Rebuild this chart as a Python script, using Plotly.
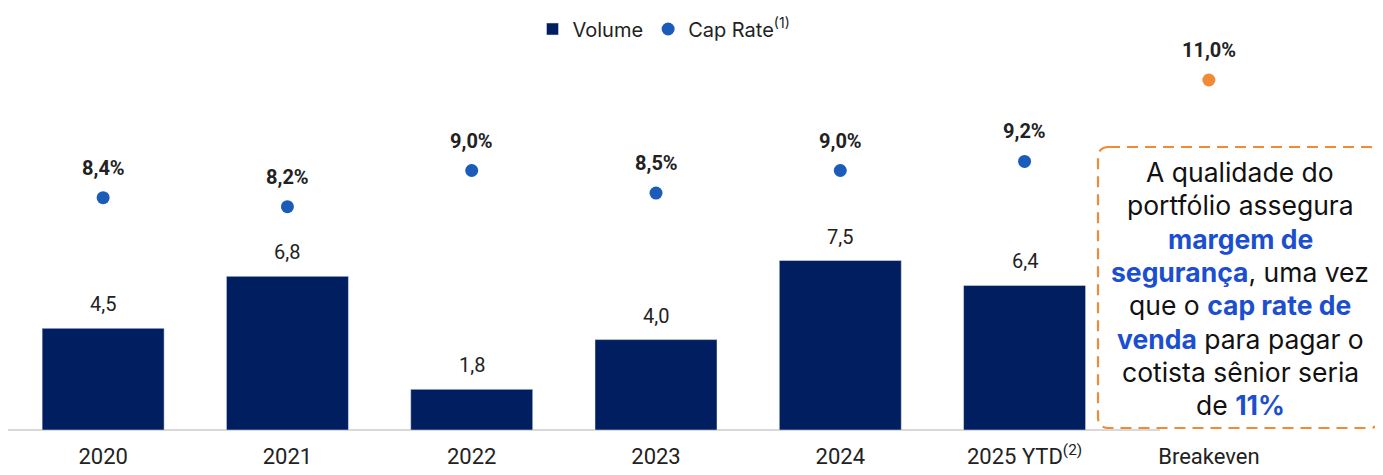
import plotly.graph_objects as go

categories = ["2020", "2021", "2022", "2023", "2024", "2025 YTD", "Breakeven"]
tick_labels = ["2020", "2021", "2022", "2023", "2024", "2025 YTD<sup>(2)</sup>", "Breakeven"]
volume = [4.5, 6.8, 1.8, 4.0, 7.5, 6.4, None]
cap_rate = [8.4, 8.2, 9.0, 8.5, 9.0, 9.2, None]
breakeven_cat = ["Breakeven"]
breakeven_rate = [11.0]

box_lines = [
    "A qualidade do",
    "portfólio assegura",
    "<b><span style='color:#1c4fd0'>margem de</span></b>",
    "<b><span style='color:#1c4fd0'>segurança</span></b>, uma vez",
    "que o <b><span style='color:#1c4fd0'>cap rate de</span></b>",
    "<b><span style='color:#1c4fd0'>venda</span></b> para pagar o",
    "cotista sênior seria",
    "de <b><span style='color:#1c4fd0'>11%</span></b>",
]

W, H = 1383, 475
OFF = 8  # page body margin
L, R, T, B = 11, 1301, 40, 430


def px_x(p):
    return (p - L) / (R - L)


def px_y(p):
    return (B - p) / (B - T)


NAVY = "#001e60"
BLUE = "#1a5cb8"
ORANGE = "#f08a34"
TXT = "#222222"
FONT = "Inter, Roboto, sans-serif"
NUMFONT = "Roboto, sans-serif"

fig = go.Figure()
fig.add_trace(go.Bar(
    x=categories, y=volume, name="Volume", marker_color=NAVY,
    yaxis="y", showlegend=True,
))
fig.add_trace(go.Scatter(
    x=categories, y=cap_rate, name="Cap Rate<sup>(1)</sup>", mode="markers",
    marker=dict(color=BLUE, size=13), yaxis="y2",
))
fig.add_trace(go.Scatter(
    x=breakeven_cat, y=breakeven_rate, mode="markers", showlegend=False,
    marker=dict(color=ORANGE, size=13), yaxis="y2",
))

annotations = []
for c, v in zip(categories, volume):
    if v is None:
        continue
    annotations.append(dict(
        x=categories.index(c), y=v, xref="x", yref="y", text=f"{v:.1f}".replace(".", ","),
        showarrow=False, yanchor="middle", yshift=24,
        font=dict(family=NUMFONT, size=20, color=TXT),
    ))
for c, v in zip(categories + breakeven_cat, cap_rate + breakeven_rate):
    if v is None:
        continue
    annotations.append(dict(
        x=categories.index(c), y=v, xref="x", yref="y2",
        text=f"<b>{v:.1f}%</b>".replace(".", ","),
        showarrow=False, yanchor="middle", yshift=30,
        font=dict(family=NUMFONT, size=20, color=TXT),
    ))

# text box
box_cx = 1240
first_y, spacing = 172, 33.3
for i, line in enumerate(box_lines):
    annotations.append(dict(
        x=px_x(box_cx), y=px_y(first_y + i * spacing), xref="paper", yref="paper",
        text=line, showarrow=False, xanchor="center", yanchor="middle",
        font=dict(family=FONT, size=26.5, color="#111111"),
    ))

# rounded dashed box
x0, x1, y0, y1 = 1098, 1380, 147, 428
r = 11
def P(x, y):
    return f"{px_x(x):.5f},{px_y(y):.5f}"
path = (
    f"M {P(x0 + r, y0)} L {P(x1 - r, y0)} Q {P(x1, y0)} {P(x1, y0 + r)} "
    f"L {P(x1, y1 - r)} Q {P(x1, y1)} {P(x1 - r, y1)} "
    f"L {P(x0 + r, y1)} Q {P(x0, y1)} {P(x0, y1 - r)} "
    f"L {P(x0, y0 + r)} Q {P(x0, y0)} {P(x0 + r, y0)} Z"
)
shapes = [
    dict(type="line", xref="paper", yref="paper", x0=px_x(8), x1=px_x(1160),
         y0=px_y(430), y1=px_y(430), line=dict(color="#d9d9d9", width=2), layer="below"),
    dict(type="path", xref="paper", yref="paper", path=path,
         line=dict(color=ORANGE, width=2.2, dash="11px,7px"), fillcolor="rgba(0,0,0,0)"),
]

fig.update_layout(
    width=W - OFF, height=H - OFF,
    margin=dict(l=L - OFF, r=W - R, t=T - OFF, b=H - B, autoexpand=False),
    paper_bgcolor="white", plot_bgcolor="white",
    bargap=0.338,
    font=dict(family=FONT, color=TXT),
    legend=dict(orientation="h", x=px_x(664), xanchor="center", y=px_y(29), yanchor="middle",
                font=dict(size=20, color=TXT), itemwidth=30, tracegroupgap=0),
    xaxis=dict(type="category", categoryorder="array", categoryarray=categories,
               range=[-0.5, len(categories) - 0.5],
               tickmode="array", tickvals=categories, ticktext=tick_labels,
               tickangle=0, automargin=False,
               showline=False, showgrid=False, zeroline=False, ticks="",
               ticklabelstandoff=11,
               tickfont=dict(family=NUMFONT, size=22, color=TXT)),
    yaxis=dict(range=[0, 17.26], visible=False, showgrid=False, zeroline=False),
    yaxis2=dict(range=[3.265, 11.884], overlaying="y", visible=False,
                showgrid=False, zeroline=False),
    annotations=annotations,
    shapes=shapes,
)

fig.write_html("out.html")
